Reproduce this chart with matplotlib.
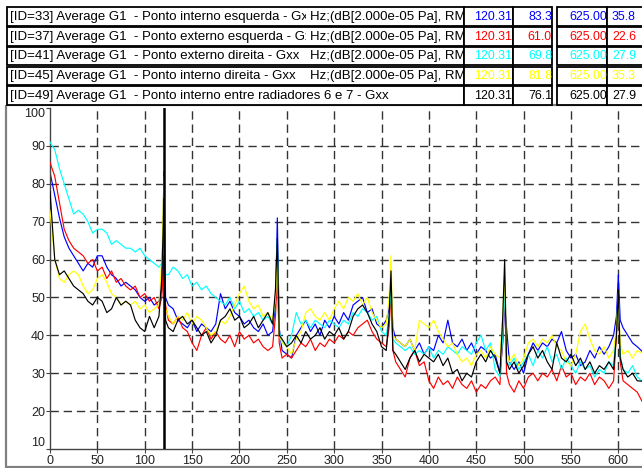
import matplotlib
matplotlib.use("Agg")
import matplotlib.pyplot as plt
from matplotlib.patches import Rectangle

plt.rcParams['font.family'] = ['Liberation Sans', 'DejaVu Sans']

# ---------------- data ----------------
freq = [0, 5, 10, 15, 20, 25, 30, 35, 40, 45, 50, 55, 60, 65, 70, 75, 80, 85, 90, 95, 100, 105, 110, 115,
        118, 120.31, 122,
        125, 130, 135, 140, 145, 150, 155, 160, 165, 170, 175, 180, 185, 190, 195, 200, 205, 210, 215, 220, 225, 230, 235,
        238, 240, 242,
        245, 250, 255, 260, 265, 270, 275, 280, 285, 290, 295, 300, 305, 310, 315, 320, 325, 330, 335, 340, 345, 350, 355,
        358, 360, 362,
        365, 370, 375, 380, 385, 390, 395, 400, 405, 410, 415, 420, 425, 430, 435, 440, 445, 450, 455, 460, 465, 470, 475,
        478, 480, 482,
        485, 490, 495, 500, 505, 510, 515, 520, 525, 530, 535, 540, 545, 550, 555, 560, 565, 570, 575, 580, 585, 590, 595,
        598, 600, 602,
        605, 610, 615, 620, 625]

blue = [83, 77, 71, 66, 63, 61, 59, 57, 59, 58, 61, 61, 58, 56, 55, 53, 54, 53, 52, 50, 49, 50, 48, 49,
        52, 83.3, 50,
        48, 47, 44, 43, 42, 44, 41, 43, 42, 41, 43, 51, 47, 49, 46, 45, 43, 44, 42, 41, 43, 40, 41,
        48, 71, 42,
        36, 35, 34, 40, 42, 44, 41, 43, 40, 44, 42, 45, 43, 46, 44, 48, 49, 50, 46, 47, 43, 42, 44,
        47, 55, 42,
        39, 38, 37, 39, 36, 38, 35, 37, 36, 40, 38, 44, 38, 37, 39, 36, 38, 35, 37, 36, 34, 35, 30,
        38, 48, 42,
        33, 31, 33, 30, 35, 38, 36, 38, 37, 39, 38, 41, 36, 34, 35, 32, 33, 36, 34, 37, 35, 37, 40,
        45, 56, 44,
        42, 40, 38, 37, 35.8]

red = [85.6, 82, 75, 68, 65, 63, 62, 61, 59, 60, 57, 58, 55, 57, 54, 55, 53, 52, 53, 50, 51, 49, 50, 47,
       50, 61.0, 48,
       44, 43, 45, 42, 41, 38, 36, 40, 42, 39, 41, 39, 38, 40, 37, 41, 39, 40, 38, 39, 37, 36, 37,
       45, 55.8, 38,
       34, 35, 34, 36, 38, 37, 39, 36, 38, 37, 39, 38, 40, 39, 41, 40, 42, 43, 44, 41, 39, 38, 37,
       42, 51, 36,
       33, 31, 29, 34, 36, 32, 33, 28, 26, 29, 27, 28, 26, 29, 27, 26, 28, 25, 27, 26, 28, 29, 27,
       40, 53, 30,
       27, 25, 28, 26, 29, 30, 28, 30, 29, 31, 28, 32, 29, 30, 27, 29, 28, 30, 27, 29, 28, 26, 28,
       40, 51, 33,
       28, 27, 26, 25, 22.6]

cyan = [91, 89, 84, 80, 76, 72, 73, 72, 70, 67, 68, 68, 67, 64, 65, 64, 63, 63, 62, 63, 61, 60, 59, 58,
        59, 69.8, 56,
        56, 58, 57, 55, 56, 53, 54, 52, 53, 51, 50, 49, 48, 50, 47, 49, 46, 47, 45, 46, 44, 45, 43,
        50, 65, 41,
        38, 37, 40, 46, 43, 44, 42, 44, 43, 42, 44, 43, 42, 44, 43, 46, 45, 47, 46, 44, 45, 41, 40,
        45, 52, 39,
        38, 37, 36, 37, 35, 36, 35, 37, 34, 36, 35, 37, 36, 35, 37, 36, 35, 38, 40, 36, 38, 31, 29,
        40, 53, 33,
        32, 34, 31, 33, 35, 32, 36, 34, 37, 33, 35, 31, 34, 32, 30, 33, 31, 32, 29, 31, 30, 33, 32,
        42, 51, 35,
        31, 30, 32, 29, 27.9]

yellow = [73, 60, 55, 54, 56, 57, 56, 53, 51, 52, 55, 56, 54, 51, 50, 48, 49, 48, 49, 47, 48, 46, 47, 48,
          60, 81.8, 47,
          45, 43, 45, 44, 46, 43, 45, 44, 42, 40, 41, 44, 43, 45, 48, 51, 53, 49, 47, 48, 45, 46, 44,
          50, 61, 40,
          38, 37, 35, 39, 41, 46, 47, 45, 44, 46, 44, 47, 49, 47, 50, 49, 51, 48, 50, 46, 44, 42, 43,
          50, 61, 40,
          39, 38, 37, 39, 36, 44, 43, 42, 44, 41, 39, 37, 38, 35, 33, 34, 32, 35, 36, 34, 37, 35, 34,
          45, 56, 36,
          33, 35, 32, 34, 38, 39, 37, 39, 38, 40, 37, 36, 33, 32, 35, 41, 43, 39, 36, 35, 37, 34, 36,
          42, 50, 38,
          35, 36, 34, 36, 35.3]

black = [78, 60, 56, 57, 55, 53, 52, 51, 49, 48, 50, 49, 46, 47, 50, 48, 49, 48, 44, 42, 41, 45, 42, 45,
         55, 76.1, 44,
         42, 41, 44, 45, 43, 44, 42, 40, 41, 38, 40, 44, 45, 47, 44, 45, 42, 43, 45, 42, 44, 46, 43,
         52, 65.5, 40,
         39, 37, 38, 40, 38, 41, 39, 40, 42, 39, 41, 40, 42, 39, 41, 45, 47, 48, 46, 43, 41, 37, 36,
         45, 57, 36,
         35, 33, 31, 34, 36, 33, 35, 34, 33, 35, 32, 34, 30, 31, 28, 30, 29, 33, 35, 33, 36, 34, 30,
         45, 60, 33,
         31, 33, 30, 32, 35, 37, 34, 36, 33, 31, 38, 34, 33, 35, 32, 34, 31, 33, 30, 32, 31, 33, 31,
         40, 52, 34,
         31, 29, 30, 28, 27.9]

series = [blue, red, cyan, yellow, black]
colors = ['#0000FF', '#FF0000', '#00FFFF', '#FFFF00', '#000000']

labels = ["[ID=33] Average G1  - Ponto interno esquerda - Gxx",
          "[ID=37] Average G1  - Ponto externo esquerda - Gxx",
          "[ID=41] Average G1  - Ponto externo direita - Gxx",
          "[ID=45] Average G1  - Ponto interno direita - Gxx",
          "[ID=49] Average G1  - Ponto interno entre radiadores 6 e 7 - Gxx"]
units = ["Hz;(dB[2.000e-05 Pa], RMS"] * 4 + [None]
cursor_x = ["120.31"] * 5
cursor_y = ["83.3", "61.0", "69.8", "81.8", "76.1"]
end_x = ["625.00"] * 5
end_y = ["35.8", "22.6", "27.9", "35.3", "27.9"]

xticks = [0, 50, 100, 150, 200, 250, 300, 350, 400, 450, 500, 550, 600]
yticks = [10, 20, 30, 40, 50, 60, 70, 80, 90, 100]
cursor_freq = 120.31

# ---------------- figure ----------------
W, H = 642, 468
fig = plt.figure(figsize=(W / 100, H / 100), dpi=100)
fig.patch.set_facecolor('white')

ax = fig.add_axes([50 / W, 19 / H, (W - 50) / W, (449 - 108) / H])
ax.set_xlim(0, 625)
ax.set_ylim(10, 100)
for s in ['top', 'right']:
    ax.spines[s].set_visible(False)
for s in ['left', 'bottom']:
    ax.spines[s].set_color('#444444')
    ax.spines[s].set_linewidth(1.0)

for xv in xticks[1:]:
    ax.axvline(xv, color='#333333', lw=1.0, ls=(0, (6, 3.5)), zorder=1)
for yv in yticks[1:-1]:
    ax.axhline(yv, color='#333333', lw=1.0, ls=(0, (6, 3.5)), zorder=1)

for i, (vals, c) in enumerate(zip(series, colors)):
    ax.plot(freq, vals, color=c, lw=0.85, zorder=2 + i)

ax.axvline(cursor_freq, color='black', lw=1.8, zorder=10)

ax.set_xticks(xticks)
ax.set_yticks(yticks)
ax.tick_params(axis='both', direction='out', length=3, width=0.8, color='#444444',
               labelsize=9, labelcolor='#222222')
ax.tick_params(axis='y', pad=0.5)
ax.tick_params(axis='x', pad=1.5)
fig.canvas.draw()
ylabs = ax.get_yticklabels()
ylabs[0].set_va('bottom')
ylabs[-1].set_va('top')

# ---------------- header table ----------------
ov = fig.add_axes([0, 0, 1, 1], zorder=20)
ov.set_xlim(0, W)
ov.set_ylim(H, 0)
ov.axis('off')
ov.patch.set_visible(False)

# outer panel
ov.add_patch(Rectangle((6, 105), W + 10, 362, fill=False, edgecolor='#808080', lw=1.6))


def clipped_text(x, y, s, x0, x1, top, **kw):
    t = ov.text(x, y, s, va='center', zorder=3, **kw)
    t.set_clip_on(True)
    t.set_clip_box(None)
    t.set_clip_path(Rectangle((x0, top), x1 - x0, rh, transform=ov.transData))
    return t


row_tops = [7, 27, 46.5, 66.5, 86]
rh = 18.5
cells = [(7, 464), (464, 513), (513, 552), (557, 607), (607, 670)]
fs_lab = 9.5
fs_val = 8.9
for r in range(5):
    top = row_tops[r]
    yc = top + rh / 2 + 0.5
    for (x0, x1) in cells:
        ov.add_patch(Rectangle((x0, top), x1 - x0, rh, facecolor='white',
                               edgecolor='black', lw=1.3, zorder=1))
    col = colors[r]
    lab_right = 306 if units[r] is not None else 462
    clipped_text(10, yc, labels[r], 7, lab_right, top, fontsize=fs_lab, color='black', ha='left')
    if units[r] is not None:
        clipped_text(310, yc, units[r], 308, 463, top, fontsize=fs_lab, color='black', ha='left')
    clipped_text(512, yc, cursor_x[r], 464, 513, top, fontsize=fs_val, color=col, ha='right')
    clipped_text(552, yc, cursor_y[r], 513, 552, top, fontsize=fs_val, color=col, ha='right')
    clipped_text(607, yc, end_x[r], 557, 607, top, fontsize=fs_val, color=col, ha='right')
    clipped_text(612, yc, end_y[r], 607, 670, top, fontsize=fs_val, color=col, ha='left')

fig.savefig('out.png', dpi=100)
